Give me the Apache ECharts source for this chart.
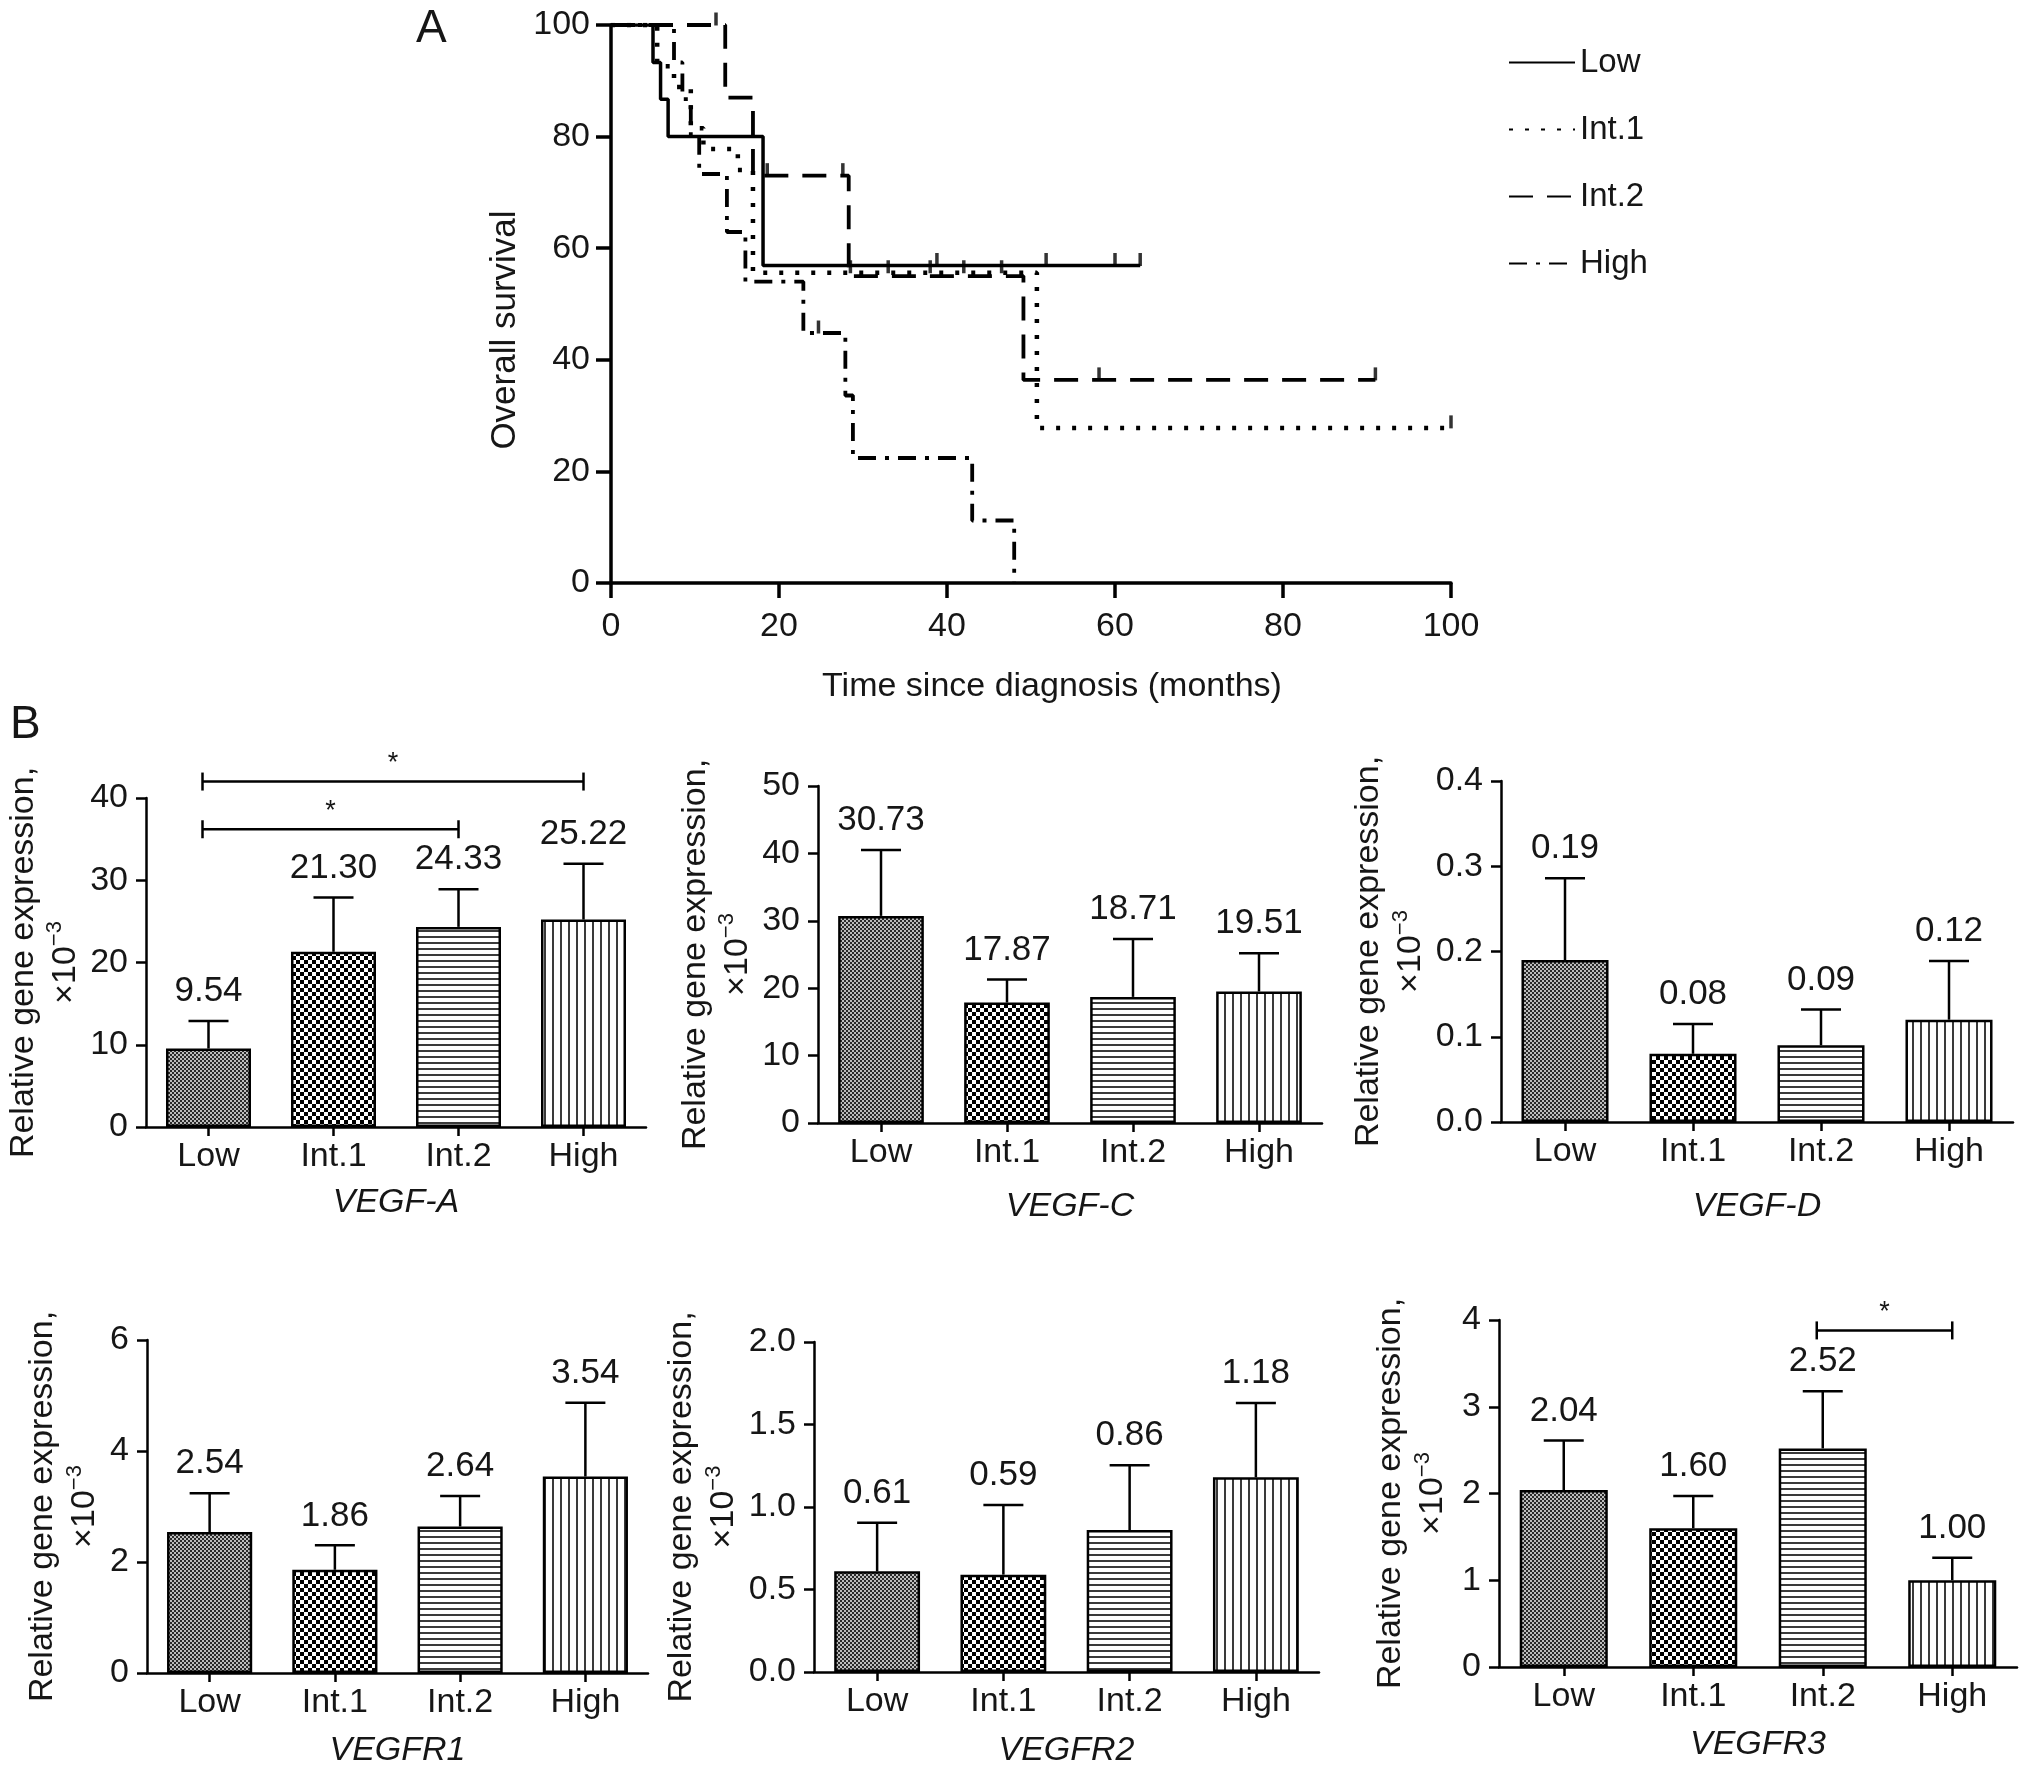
<!DOCTYPE html>
<html><head><meta charset="utf-8">
<script src="https://cdn.jsdelivr.net/npm/echarts@6/dist/echarts.min.js"></script>
<style>html,body{margin:0;padding:0;background:#fff}#c{width:2032px;height:1777px}</style>
</head><body><div id="c"></div>
<script>
// ---------- DATA ----------
const groups = ['Low', 'Int.1', 'Int.2', 'High'];

// Panel A: Kaplan-Meier curves [month, % surviving]
const monthTicks = [0, 20, 40, 60, 80, 100];
const survivalTicks = [0, 20, 40, 60, 80, 100];
const lowCurve  = [[0,100],[5.0,93.3],[5.9,86.7],[6.8,80.0],[18.1,56.9],[63,56.9]];
const int1Curve = [[0,100],[5.5,92.6],[7.5,88.9],[9.5,81.5],[11,77.8],[15.1,74.0],[16.9,55.6],[50.7,27.8],[100,27.8]];
const int2Curve = [[0,100],[13.6,87.0],[16.9,73.0],[28.3,55.0],[49.1,36.4],[91,36.4]];
const highCurve = [[0,100],[7.5,93.3],[8.5,86.7],[9.5,80.0],[10.5,73.3],[13.8,62.9],[16.0,54.0],[22.9,44.8],[27.9,33.6],[28.8,22.4],[43.0,11.2],[48.0,0]];
const lowCensor  = [[38.8,56.9],[51.8,56.9],[60,56.9],[63,56.9]];
const int1Censor = [[28.5,55.6],[33,55.6],[38,55.6],[42,55.6],[46.5,55.6],[100,27.8]];
const int2Censor = [[12.5,100],[18.6,73.0],[27.6,73.0],[58.1,36.4],[91,36.4]];
const highCensor = [[24.7,44.8]];

// Panel B: means (labels) and upper error-bar ends
const vegfaMean = [9.54, 21.30, 24.33, 25.22];
const vegfaUpper = [12.9, 27.9, 28.9, 32.0];
const vegfaTicks = [0, 10, 20, 30, 40];
const vegfaSig = [['Low', 'Int.2', 36.2], ['Low', 'High', 42.0]];

const vegfcMean = [30.73, 17.87, 18.71, 19.51];
const vegfcUpper = [40.5, 21.3, 27.3, 25.2];
const vegfcTicks = [0, 10, 20, 30, 40, 50];

const vegfdMean = [0.19, 0.08, 0.09, 0.12];
const vegfdUpper = [0.286, 0.115, 0.132, 0.189];
const vegfdTicks = [0.0, 0.1, 0.2, 0.3, 0.4];

const vegfr1Mean = [2.54, 1.86, 2.64, 3.54];
const vegfr1Upper = [3.24, 2.30, 3.19, 4.87];
const vegfr1Ticks = [0, 2, 4, 6];

const vegfr2Mean = [0.61, 0.59, 0.86, 1.18];
const vegfr2Upper = [0.904, 1.012, 1.253, 1.631];
const vegfr2Ticks = [0.0, 0.5, 1.0, 1.5, 2.0];

const vegfr3Mean = [2.04, 1.60, 2.52, 1.00];
const vegfr3Upper = [2.61, 1.97, 3.18, 1.26];
const vegfr3Ticks = [0, 1, 2, 3, 4];
const vegfr3Sig = [['Int.2', 'High', 3.88]];

// ---------- STYLE / LAYOUT ----------
const FONT = '"Liberation Sans", Arial, Helvetica, sans-serif';
const INK = '#161616';

function pattern(kind) {
  const c = document.createElement('canvas');
  let ctx;
  if (kind === 0) { // fine grey checker
    c.width = 4; c.height = 4; ctx = c.getContext('2d');
    ctx.fillStyle = '#bdbdbd'; ctx.fillRect(0, 0, 4, 4);
    ctx.fillStyle = '#2a2a2a'; ctx.fillRect(0, 0, 2, 2); ctx.fillRect(2, 2, 2, 2);
  } else if (kind === 1) { // black/white checkerboard
    c.width = 8; c.height = 8; ctx = c.getContext('2d');
    ctx.fillStyle = '#ffffff'; ctx.fillRect(0, 0, 8, 8);
    ctx.fillStyle = '#000000'; ctx.fillRect(0, 0, 4, 4); ctx.fillRect(4, 4, 4, 4);
  } else if (kind === 2) { // horizontal lines
    c.width = 8; c.height = 6; ctx = c.getContext('2d');
    ctx.fillStyle = '#ffffff'; ctx.fillRect(0, 0, 8, 6);
    ctx.fillStyle = '#3a3a3a'; ctx.fillRect(0, 0, 8, 2);
  } else { // vertical lines
    c.width = 8; c.height = 8; ctx = c.getContext('2d');
    ctx.fillStyle = '#ffffff'; ctx.fillRect(0, 0, 8, 8);
    ctx.fillStyle = '#3a3a3a'; ctx.fillRect(0, 0, 2, 8);
  }
  return { image: c, repeat: 'repeat' };
}
const fills = [pattern(0), pattern(1), pattern(2), pattern(3)];

const panels = [
  { gene: 'VEGF-A', mean: vegfaMean, upper: vegfaUpper, ticks: vegfaTicks, sig: vegfaSig, dec: 0, left: 146, right: 646, y0: 1127, y1: 798, gapY: 98, gapX: 76 },
  { gene: 'VEGF-C', mean: vegfcMean, upper: vegfcUpper, ticks: vegfcTicks, sig: [], dec: 0, left: 818, right: 1322, y0: 1123, y1: 786, gapY: 97, gapX: 84 },
  { gene: 'VEGF-D', mean: vegfdMean, upper: vegfdUpper, ticks: vegfdTicks, sig: [], dec: 1, left: 1501, right: 2013, y0: 1122, y1: 781, gapY: 107, gapX: 85 },
  { gene: 'VEGFR1', mean: vegfr1Mean, upper: vegfr1Upper, ticks: vegfr1Ticks, sig: [], dec: 0, left: 147, right: 648, y0: 1673, y1: 1340, gapY: 83, gapX: 78 },
  { gene: 'VEGFR2', mean: vegfr2Mean, upper: vegfr2Upper, ticks: vegfr2Ticks, sig: [], dec: 1, left: 814, right: 1319, y0: 1672, y1: 1342, gapY: 103, gapX: 79 },
  { gene: 'VEGFR3', mean: vegfr3Mean, upper: vegfr3Upper, ticks: vegfr3Ticks, sig: vegfr3Sig, dec: 0, left: 1499, right: 2017, y0: 1667, y1: 1320, gapY: 87, gapX: 78 }
];

const grids = [{ left: 611, top: 25, width: 840, height: 558, outerBoundsMode: 'none' }];
const xAxes = [{
  gridIndex: 0, type: 'value', min: monthTicks[0], max: monthTicks[monthTicks.length - 1],
  interval: monthTicks[1] - monthTicks[0],
  axisLine: { show: true, lineStyle: { color: '#000', width: 3.5 } },
  axisTick: { show: true, inside: false, length: 15, lineStyle: { color: '#000', width: 3.5 } },
  axisLabel: { show: true, fontSize: 34, fontFamily: FONT, color: INK, margin: 27 },
  splitLine: { show: false },
  name: 'Time since diagnosis (months)', nameLocation: 'middle', nameGap: 104,
  nameTextStyle: { fontSize: 34, fontFamily: FONT, color: INK, verticalAlign: 'middle', padding: [0, 0, 0, 42] }
}];
const yAxes = [{
  gridIndex: 0, type: 'value', min: survivalTicks[0], max: survivalTicks[survivalTicks.length - 1],
  interval: survivalTicks[1] - survivalTicks[0],
  axisLine: { show: true, lineStyle: { color: '#000', width: 3.5 } },
  axisTick: { show: true, inside: false, length: 15, lineStyle: { color: '#000', width: 3.5 } },
  axisLabel: { show: true, fontSize: 34, fontFamily: FONT, color: INK, margin: 21 },
  splitLine: { show: false },
  name: 'Overall survival', nameLocation: 'middle', nameGap: 106,
  nameTextStyle: { fontSize: 35, fontFamily: FONT, color: INK, verticalAlign: 'middle', padding: [0, 52, 0, 0] }
}];

const kmStyles = [
  { name: 'Low', data: lowCurve, censor: lowCensor, type: 'solid', width: 3.5 },
  { name: 'Int.1', data: int1Curve, censor: int1Censor, type: [4, 12], width: 4.5 },
  { name: 'Int.2', data: int2Curve, censor: int2Censor, type: [24, 14], width: 3.8 },
  { name: 'High', data: highCurve, censor: highCensor, type: [18, 9, 4, 9], width: 3.8 }
];

const series = [];
kmStyles.forEach(k => {
  series.push({
    name: k.name, type: 'line', xAxisIndex: 0, yAxisIndex: 0, step: 'end', data: k.data,
    symbol: 'none', showSymbol: false, silent: true,
    lineStyle: { color: '#000', width: k.width, type: k.type, cap: 'butt' },
    itemStyle: { color: '#000' }, emphasis: { disabled: true }, z: 3
  });
  series.push({
    name: k.name + ' censored', type: 'scatter', xAxisIndex: 0, yAxisIndex: 0, data: k.censor,
    symbol: 'rect', symbolSize: [3.5, 13], symbolOffset: [0, -6], silent: true,
    itemStyle: { color: '#000' }, z: 4
  });
});

panels.forEach((p, i) => {
  const gi = i + 1;
  grids.push({ left: p.left, top: p.y1, width: p.right - p.left, height: p.y0 - p.y1, outerBoundsMode: 'none' });
  xAxes.push({
    gridIndex: gi, type: 'category', data: groups, boundaryGap: true,
    axisLine: { show: true, lineStyle: { color: '#000', width: 2.5 } },
    axisTick: { show: true, alignWithLabel: true, inside: false, length: 9, lineStyle: { color: '#000', width: 2.5 } },
    axisLabel: { show: true, interval: 0, fontSize: 34, fontFamily: FONT, color: INK, margin: 13 },
    splitLine: { show: false },
    name: p.gene, nameLocation: 'middle', nameGap: p.gapX,
    nameTextStyle: { fontSize: 34, fontFamily: FONT, fontStyle: 'italic', color: INK, verticalAlign: 'middle' }
  });
  yAxes.push({
    gridIndex: gi, type: 'value', min: p.ticks[0], max: p.ticks[p.ticks.length - 1],
    interval: +(p.ticks[1] - p.ticks[0]).toFixed(6),
    axisLine: { show: true, lineStyle: { color: '#000', width: 2.5 } },
    axisTick: { show: true, inside: false, length: 10, lineStyle: { color: '#000', width: 2.5 } },
    axisLabel: { show: true, fontSize: 34, fontFamily: FONT, color: INK, margin: 18, formatter: v => v.toFixed(p.dec) },
    splitLine: { show: false },
    name: 'Relative gene expression,\n×10{sup|−3}', nameLocation: 'middle', nameGap: p.gapY,
    nameTextStyle: {
      fontSize: 34, fontFamily: FONT, color: INK, verticalAlign: 'middle', align: 'center', lineHeight: 42,
      rich: { sup: { fontSize: 22, fontFamily: FONT, color: INK, verticalAlign: 'top', lineHeight: 42 } }
    }
  });
  series.push({
    type: 'bar', xAxisIndex: gi, yAxisIndex: gi, barWidth: '68%', silent: true,
    data: p.mean.map((v, j) => ({ value: v, itemStyle: { color: fills[j] } })),
    itemStyle: { borderColor: '#000', borderWidth: 2.5 }, z: 2
  });
  series.push({
    type: 'custom', xAxisIndex: gi, yAxisIndex: gi, silent: true, clip: false, z: 5,
    data: p.mean.map((v, j) => [j, v, p.upper[j]]),
    encode: { x: 0, y: [1, 2] },
    renderItem: (params, api) => {
      const xi = api.value(0);
      const b = api.coord([xi, api.value(1)]);
      const t = api.coord([xi, api.value(2)]);
      return { type: 'group', children: [
        { type: 'line', shape: { x1: b[0], y1: b[1], x2: t[0], y2: t[1] }, style: { stroke: '#000', lineWidth: 2.5 } },
        { type: 'line', shape: { x1: t[0] - 20, y1: t[1], x2: t[0] + 20, y2: t[1] }, style: { stroke: '#000', lineWidth: 2.5 } },
        { type: 'text', x: t[0], y: t[1] - 12, style: { text: api.value(1).toFixed(2), fontSize: 35, fontFamily: FONT, fill: INK, align: 'center', verticalAlign: 'bottom' } }
      ] };
    }
  });
  if (p.sig.length) {
    series.push({
      type: 'custom', xAxisIndex: gi, yAxisIndex: gi, silent: true, clip: false, z: 5,
      data: p.sig.map(s => [groups.indexOf(s[0]), groups.indexOf(s[1]), s[2]]),
      encode: { x: [0, 1], y: 2 },
      renderItem: (params, api) => {
        const a = api.coord([api.value(0), api.value(2)]);
        const b = api.coord([api.value(1), api.value(2)]);
        const a2 = [a[0] - 6, a[1]];
        return { type: 'group', children: [
          { type: 'line', shape: { x1: a2[0], y1: a[1], x2: b[0], y2: b[1] }, style: { stroke: '#000', lineWidth: 2.5 } },
          { type: 'line', shape: { x1: a2[0], y1: a[1] - 9, x2: a2[0], y2: a[1] + 9 }, style: { stroke: '#000', lineWidth: 2.5 } },
          { type: 'line', shape: { x1: b[0], y1: b[1] - 9, x2: b[0], y2: b[1] + 9 }, style: { stroke: '#000', lineWidth: 2.5 } },
          { type: 'text', x: (a2[0] + b[0]) / 2, y: a[1] - 18, style: { text: '*', fontSize: 27, fontFamily: FONT, fill: INK, align: 'center', verticalAlign: 'middle' } }
        ] };
      }
    });
  }
});

const chart = echarts.init(document.getElementById('c'), null, { renderer: 'canvas' });
chart.setOption({
  backgroundColor: '#ffffff',
  animation: false,
  title: [
    { text: 'A', left: 416, top: 6, padding: 0, textStyle: { fontSize: 46, fontWeight: 'normal', fontFamily: FONT, color: INK } },
    { text: 'B', left: 10, top: 702, padding: 0, textStyle: { fontSize: 46, fontWeight: 'normal', fontFamily: FONT, color: INK } }
  ],
  legend: {
    data: groups, orient: 'vertical', left: 1508, top: 46, padding: 0,
    itemWidth: 66, itemHeight: 30, itemGap: 34, selectedMode: false,
    itemStyle: { color: 'transparent', borderWidth: 0, borderColor: 'transparent' },
    textStyle: { fontSize: 33, fontFamily: FONT, color: INK }
  },
  tooltip: { show: false },
  grid: grids, xAxis: xAxes, yAxis: yAxes, series: series
});
</script></body></html>
